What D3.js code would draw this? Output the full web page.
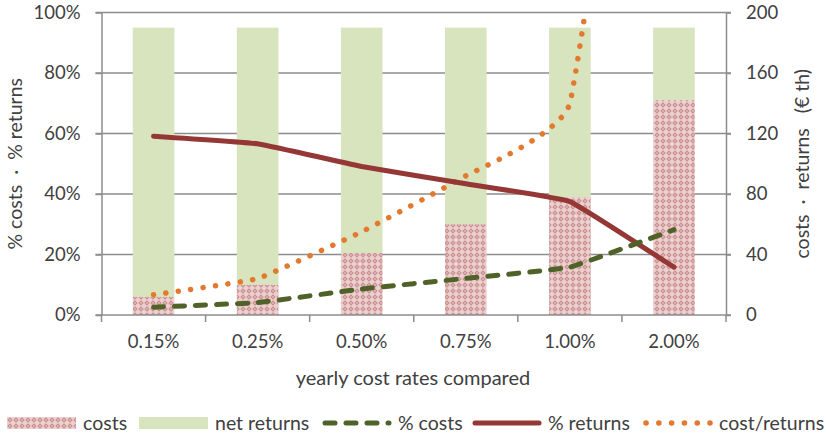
<!DOCTYPE html>
<html>
<head>
<meta charset="utf-8">
<script src="https://cdn.jsdelivr.net/npm/d3@7"></script>
<style>
    body { margin: 0; background: #fff; }
    text { font-family: Lato, "Open Sans", sans-serif; fill: #404040; white-space: pre; }
</style>
</head>
<body>
<div id="chart-area"></div>
<script>

// values
var categories = ["0.15%", "0.25%", "0.50%", "0.75%", "1.00%", "2.00%"];
var costs = [12, 20, 41, 60, 78, 142];             // € th, right axis
var netReturns = [178, 170, 149, 130, 112, 48];    // € th, right axis
var pctCosts = [0.026, 0.041, 0.086, 0.121, 0.158, 0.282];
var pctReturns = [0.591, 0.566, 0.491, 0.434, 0.375, 0.158];
var costReturns = [0.067, 0.12, 0.275, 0.46, 0.70, 2.96];  // last one runs off the top

var leftTicks = [0, 0.2, 0.4, 0.6, 0.8, 1];
var rightTicks = [0, 40, 80, 120, 160, 200];


ComboChart = function(_parentElement) {
    this.parentElement = _parentElement;
    this.initVis();
}

ComboChart.prototype.initVis = function() {
    var vis = this;

    vis.width = 826;
    vis.height = 438;
    vis.plot = {left: 101.5, right: 726, top: 12.5, bottom: 315};

    vis.svg = d3.select("#" + vis.parentElement).append("svg")
        .attr("width", vis.width)
        .attr("height", vis.height);

    var defs = vis.svg.append("defs");

    // checker-ish pattern for the cost bars
    var pat = defs.append("pattern")
        .attr("id", "costPattern")
        .attr("patternUnits", "userSpaceOnUse")
        .attr("width", 6)
        .attr("height", 6);
    pat.append("rect").attr("width", 6).attr("height", 6).attr("fill", "#ebd0cf");
    pat.append("path")
        .attr("d", "M3,0.3 L5.7,3 L3,5.7 L0.3,3 Z")
        .attr("fill", "#c98f8e");
    pat.append("rect").attr("x", 2.4).attr("y", 2.4).attr("width", 1.2).attr("height", 1.2).attr("fill", "#f3e2e1");

    defs.append("clipPath").attr("id", "plotClip")
        .append("rect")
        .attr("x", vis.plot.left)
        .attr("y", vis.plot.top)
        .attr("width", vis.plot.right - vis.plot.left)
        .attr("height", vis.plot.bottom - vis.plot.top);

    // Scales
    var x = d3.scaleBand()
        .domain(categories)
        .range([vis.plot.left, vis.plot.right]);

    var yLeft = d3.scaleLinear()
        .domain([0, 1])
        .range([vis.plot.bottom, vis.plot.top]);

    var yRight = d3.scaleLinear()
        .domain([0, 200])
        .range([vis.plot.bottom, vis.plot.top]);

    var barWidth = x.bandwidth() * 0.4;
    var center = function(d, i) { return x(categories[i]) + x.bandwidth() / 2; };

    // gridlines
    vis.svg.selectAll("line.grid")
        .data(leftTicks.slice(1))
        .enter().append("line")
        .attr("class", "grid")
        .attr("x1", vis.plot.left - 6)
        .attr("x2", vis.plot.right + 5)
        .attr("y1", function(d) { return yLeft(d); })
        .attr("y2", function(d) { return yLeft(d); })
        .attr("stroke", "#8c8c8c")
        .attr("stroke-width", 1.5);

    // stacked bars
    vis.svg.selectAll("rect.net")
        .data(netReturns)
        .enter().append("rect")
        .attr("class", "net")
        .attr("x", function(d, i) { return center(d, i) - barWidth / 2; })
        .attr("width", barWidth)
        .attr("y", function(d, i) { return yRight(costs[i] + d); })
        .attr("height", function(d, i) { return yRight(costs[i]) - yRight(costs[i] + d); })
        .attr("fill", "#d7e4bd");

    vis.svg.selectAll("rect.cost")
        .data(costs)
        .enter().append("rect")
        .attr("class", "cost")
        .attr("x", function(d, i) { return center(d, i) - barWidth / 2; })
        .attr("width", barWidth)
        .attr("y", function(d) { return yRight(d); })
        .attr("height", function(d) { return yRight(0) - yRight(d); })
        .attr("fill", "url(#costPattern)");

    // axes
    var leftAxis = vis.svg.append("g")
        .attr("transform", "translate(" + vis.plot.left + ",0)")
        .call(d3.axisLeft(yLeft).tickValues(leftTicks).tickFormat(d3.format(".0%"))
            .tickSize(6).tickPadding(15).tickSizeOuter(0));

    var rightAxis = vis.svg.append("g")
        .attr("transform", "translate(" + vis.plot.right + ",0)")
        .call(d3.axisRight(yRight).tickValues(rightTicks)
            .tickSize(5).tickPadding(15).tickSizeOuter(0));

    var bottomAxis = vis.svg.append("g")
        .attr("transform", "translate(0," + vis.plot.bottom + ")")
        .call(d3.axisBottom(x).tickSize(0).tickPadding(20).tickSizeOuter(0));

    // category boundary ticks
    var bounds = categories.map(function(c) { return x(c); }).concat([vis.plot.right]);
    bottomAxis.selectAll("line.bound")
        .data(bounds)
        .enter().append("line")
        .attr("class", "bound")
        .attr("x1", function(d) { return d; })
        .attr("x2", function(d) { return d; })
        .attr("y1", 0)
        .attr("y2", 7);

    [leftAxis, rightAxis, bottomAxis].forEach(function(g) {
        g.selectAll("path, line").attr("stroke", "#8c8c8c").attr("stroke-width", 1.5);
        g.selectAll("text").attr("font-size", 18.5).attr("fill", "#404040")
            .attr("font-family", "Lato, 'Open Sans', sans-serif");
    });
    bottomAxis.select("path.domain")
        .attr("d", "M" + (vis.plot.left - 6) + ",0H" + (vis.plot.right + 5));

    // lines - Excel style smoothing is fairly tight, so a tense cardinal
    var lineGen = function(scale) {
        return d3.line()
            .x(function(d, i) { return center(d, i); })
            .y(function(d) { return scale(d); })
            .curve(d3.curveCardinal.tension(0.75));
    };

    var lines = vis.svg.append("g").attr("clip-path", "url(#plotClip)");

    lines.append("path")
        .attr("d", lineGen(yLeft)(costReturns))
        .attr("fill", "none")
        .attr("stroke", "#e3792f")
        .attr("stroke-width", 5.5)
        .attr("stroke-linecap", "round")
        .attr("stroke-dasharray", "0.1 12.4");

    lines.append("path")
        .attr("d", lineGen(yLeft)(pctReturns))
        .attr("fill", "none")
        .attr("stroke", "#953735")
        .attr("stroke-width", 5)
        .attr("stroke-linecap", "round");

    lines.append("path")
        .attr("d", lineGen(yLeft)(pctCosts))
        .attr("fill", "none")
        .attr("stroke", "#4f6228")
        .attr("stroke-width", 5)
        .attr("stroke-linecap", "round")
        .attr("stroke-dasharray", "10 11");

    // axis titles
    vis.svg.append("text")
        .attr("transform", "translate(15," + (vis.plot.top + vis.plot.bottom) / 2 + ") rotate(-90)")
        .attr("text-anchor", "middle")
        .attr("dy", "0.35em")
        .attr("font-size", 19.5)
        .text("% costs  \u00b7  % returns");

    vis.svg.append("text")
        .attr("transform", "translate(802," + (vis.plot.top + vis.plot.bottom) / 2 + ") rotate(-90)")
        .attr("text-anchor", "middle")
        .attr("dy", "0.35em")
        .attr("font-size", 19.5)
        .text("costs  \u00b7  returns   (\u20ac th)");

    vis.svg.append("text")
        .attr("x", 413)
        .attr("y", 378)
        .attr("text-anchor", "middle")
        .attr("dy", "0.35em")
        .attr("font-size", 20)
        .text("yearly cost rates compared");

    // Legend
    var legendItems = [
        {name: "costs", type: "pattern", x: 7},
        {name: "net returns", type: "fill", x: 139},
        {name: "% costs", type: "dash", x: 322},
        {name: "% returns", type: "solid", x: 472},
        {name: "cost/returns", type: "dot", x: 643}
    ];
    var ly = 423;

    var legend = vis.svg.selectAll("g.legend")
        .data(legendItems)
        .enter().append("g")
        .attr("class", "legend")
        .attr("transform", function(d) { return "translate(" + d.x + "," + ly + ")"; });

    legend.each(function(d) {
        var g = d3.select(this);
        if (d.type === "pattern" || d.type === "fill") {
            g.append("rect")
                .attr("y", -6)
                .attr("width", 69)
                .attr("height", 12)
                .attr("fill", d.type === "pattern" ? "url(#costPattern)" : "#d7e4bd");
        } else {
            var ln = g.append("line")
                .attr("x1", 3).attr("x2", 67)
                .attr("stroke-width", 5)
                .attr("stroke-linecap", "round");
            if (d.type === "dash") ln.attr("stroke", "#4f6228").attr("stroke-dasharray", "10 11");
            if (d.type === "solid") ln.attr("stroke", "#953735");
            if (d.type === "dot") ln.attr("stroke", "#e3792f").attr("stroke-width", 5.5).attr("stroke-dasharray", "0.1 12.7");
        }
        g.append("text")
            .attr("x", 76)
            .attr("dy", "0.35em")
            .attr("font-size", 19.5)
            .text(d.name);
    });
};

new ComboChart("chart-area");

</script>
</body>
</html>
